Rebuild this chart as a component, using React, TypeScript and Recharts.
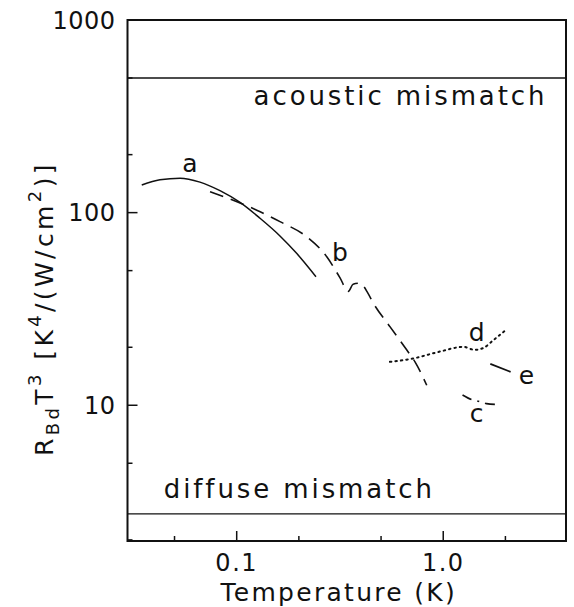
import React from "react";
import {
    LineChart, Line, XAxis, YAxis, ReferenceLine, ReferenceArea, ReferenceDot
} from "recharts";

const FONT = "'DejaVu Sans', sans-serif";
const INK = "#111";

// axes
const xDomain = [0.0296, 3.93];
const yDomain = [1.974, 1000];
const xTicks = [0.05, 0.1, 0.2, 0.5, 1, 2];
const xMajor = [0.1, 1];
const xMajorText = ["0.1", "1.0"];
const yTicks = [2, 5, 10, 20, 50, 100, 200, 500, 1000];
const yMajor = [10, 100, 1000];
const yMajorText = ["10", "100", "1000"];

// limits
const acousticLimit = 500;
const diffuseLimit = 2.73;

// curve a (solid)
const aT = [0.0347, 0.0425, 0.0532, 0.0664, 0.083, 0.1038, 0.1297, 0.162, 0.195, 0.242];
const aR = [139, 148, 151, 144, 130, 113, 93.5, 75.7, 61.5, 46.5];

// curve b (dashed)
const bT = [0.0743, 0.0962, 0.125, 0.162, 0.218, 0.273, 0.316, 0.347, 0.366, 0.395, 0.433, 0.458, 0.552, 0.665, 0.73, 0.832];
const bR = [128.5, 116, 103, 89.8, 75, 59, 46, 39, 42.5, 43, 38, 34, 25.6, 19.4, 16.8, 12.7];

// curve c (dash-dot)
const cT = [1.24, 1.37, 1.48, 1.62, 1.79];
const cR = [11.3, 10.7, 10.5, 10.2, 10.1];

// curve d (dotted)
const dT = [0.552, 0.716, 0.964, 1.25, 1.42, 1.56, 1.75, 2.03];
const dR = [16.8, 17.5, 19.0, 20.1, 19.4, 19.8, 21.8, 24.8];

// curve e (solid)
const eT = [1.69, 2.12];
const eR = [16.4, 14.9];

// curve letters
const letterText = ["a", "b", "c", "d", "e"];
const letterT = [0.0594, 0.316, 1.45, 1.45, 2.53];
const letterR = [180, 62.7, 9.09, 24.1, 14.4];

// region captions (anchored at text baseline centre)
const captionText = ["acoustic mismatch", "diffuse mismatch"];
const captionT = [0.621, 0.201];
const captionR = [362, 3.3];

const toPts = (t: number[], r: number[]) => t.map((x, i) => ({ x, y: r[i] }));

const XTick = ({ x, y, payload }: any) => {
    const i = xMajor.indexOf(payload.value);
    const major = i >= 0;
    return (
        <g>
            <line x1={x} x2={x} y1={y} y2={y - (major ? 10 : 5)} stroke={INK} strokeWidth={1.5} />
            {major && (
                <text x={x} y={y + 30} textAnchor="middle" fontFamily={FONT} fontSize={24} fill={INK} letterSpacing={1.5}>
                    {xMajorText[i]}
                </text>
            )}
        </g>
    );
};

const YTick = ({ x, y, payload }: any) => {
    const i = yMajor.indexOf(payload.value);
    const major = i >= 0;
    return (
        <g>
            <line x1={x} x2={x + (major ? 10 : 5)} y1={y} y2={y} stroke={INK} strokeWidth={1.5} />
            {major && (
                <text x={x - 12} y={y} dy="0.36em" textAnchor="end" fontFamily={FONT} fontSize={24} fill={INK} letterSpacing={0.5}>
                    {yMajorText[i]}
                </text>
            )}
        </g>
    );
};

const YLabel = ({ viewBox }: any) => {
    const cx = viewBox.x + viewBox.width - 74.5;
    const cy = viewBox.y + viewBox.height / 2 + 28;
    return (
        <text x={cx} y={cy} transform={`rotate(-90, ${cx}, ${cy})`} textAnchor="middle"
            fontFamily={FONT} fontSize={25} fill={INK} letterSpacing={3.4}>
            <tspan>R</tspan>
            <tspan fontSize={18} dy={6}>Bd</tspan>
            <tspan dy={-6}>T</tspan>
            <tspan fontSize={18} dy={-12}>3</tspan>
            <tspan dy={12}>{" [K"}</tspan>
            <tspan fontSize={18} dy={-12}>4</tspan>
            <tspan dy={12}>/(W/cm</tspan>
            <tspan fontSize={18} dy={-12}>2</tspan>
            <tspan dy={12}>)]</tspan>
        </text>
    );
};

const XLabel = ({ viewBox }: any) => (
    <text x={viewBox.x + viewBox.width / 2 - 8} y={viewBox.y + 60} textAnchor="middle"
        fontFamily={FONT} fontSize={25} fill={INK} letterSpacing={2.3}>
        Temperature (K)
    </text>
);

export default function App() {
    return (
        <div style={{ position: "absolute", left: 0, top: 0, background: "#fff" }}>
            <LineChart width={574} height={607} margin={{ top: 20, right: 8, bottom: 6, left: 67.5 }}>
                <XAxis
                    type="number" dataKey="x" scale="log" domain={xDomain} allowDataOverflow
                    ticks={xTicks} interval={0} tick={(p: any) => <XTick {...p} />}
                    tickLine={false} axisLine={false} tickSize={0} tickMargin={0} height={60}
                    label={{ content: (p: any) => <XLabel {...p} /> }}
                />
                <YAxis
                    type="number" scale="log" domain={yDomain} allowDataOverflow
                    ticks={yTicks} interval={0} tick={(p: any) => <YTick {...p} />}
                    tickLine={false} axisLine={false} tickSize={0} tickMargin={0} width={60}
                    label={{ content: (p: any) => <YLabel {...p} /> }}
                />
                <ReferenceArea x1={xDomain[0]} x2={xDomain[1]} y1={yDomain[0]} y2={yDomain[1]}
                    fill="none" stroke={INK} strokeWidth={2} ifOverflow="visible" />
                <ReferenceLine y={acousticLimit} stroke={INK} strokeWidth={1.3} />
                <ReferenceLine y={diffuseLimit} stroke={INK} strokeWidth={1.3} />

                <Line data={toPts(aT, aR)} dataKey="y" type="monotone" stroke={INK} strokeWidth={1.5}
                    dot={false} activeDot={false} isAnimationActive={false} />
                <Line data={toPts(bT, bR)} dataKey="y" type="monotone" stroke={INK} strokeWidth={1.6}
                    strokeDasharray="14 8" dot={false} activeDot={false} isAnimationActive={false} />
                <Line data={toPts(cT, cR)} dataKey="y" type="monotone" stroke={INK} strokeWidth={1.6}
                    strokeDasharray="10 6 2 6" dot={false} activeDot={false} isAnimationActive={false} />
                <Line data={toPts(dT, dR)} dataKey="y" type="monotone" stroke={INK} strokeWidth={2}
                    strokeDasharray="1.5 4" strokeLinecap="round" dot={false} activeDot={false} isAnimationActive={false} />
                <Line data={toPts(eT, eR)} dataKey="y" type="linear" stroke={INK} strokeWidth={1.8}
                    dot={false} activeDot={false} isAnimationActive={false} />

                {letterText.map((s, i) => (
                    <ReferenceDot key={s} x={letterT[i]} y={letterR[i]} ifOverflow="visible"
                        shape={(p: any) => (
                            <text x={p.cx} y={p.cy} dy="0.36em" textAnchor="middle" fontFamily={FONT} fontSize={25} fill={INK}>{s}</text>
                        )} />
                ))}
                {captionText.map((s, i) => (
                    <ReferenceDot key={s} x={captionT[i]} y={captionR[i]} ifOverflow="visible"
                        shape={(p: any) => (
                            <text x={p.cx} y={p.cy} textAnchor="middle" fontFamily={FONT} fontSize={26} fill={INK} letterSpacing={2.9}>{s}</text>
                        )} />
                ))}
            </LineChart>
        </div>
    );
}
